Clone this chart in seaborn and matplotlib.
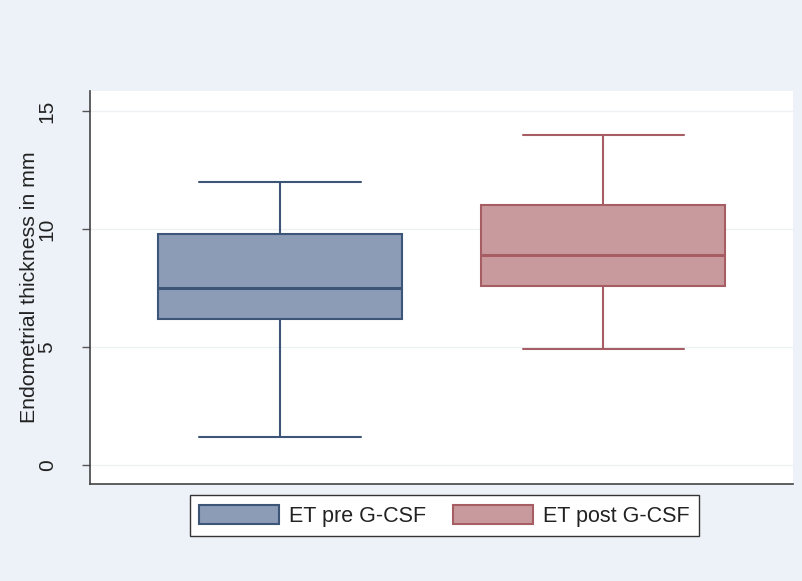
import numpy as np
import pandas as pd
import matplotlib
matplotlib.use("Agg")
import matplotlib.pyplot as plt
from matplotlib.patches import Patch
import seaborn as sns

# Five-number summaries (min, Q1, median, Q3, max) of endometrial thickness, mm
groups = ["ET pre G-CSF", "ET post G-CSF"]
pre_values = [1.2, 6.2, 7.5, 9.8, 12.0]
post_values = [4.9, 7.6, 8.9, 11.0, 14.0]

fill_colors = ["#8c9cb7", "#c99a9d"]
edge_colors = ["#3d5576", "#a65d63"]

df = pd.DataFrame({
    "group": [groups[0]] * len(pre_values) + [groups[1]] * len(post_values),
    "value": pre_values + post_values,
})

sns.set_theme(style="white")
plt.rcParams["font.family"] = ["Liberation Sans", "DejaVu Sans"]

fig = plt.figure(figsize=(8.02, 5.81), dpi=100, facecolor="#edf2f8")
ax = fig.add_axes([0.1122, 0.167, 0.8766, 0.6764])
ax.set_facecolor("white")

sns.boxplot(
    data=df, x="group", y="value", hue="group", order=groups, hue_order=groups,
    palette=dict(zip(groups, fill_colors)), saturation=1, width=0.754,
    whis=np.inf, linewidth=1.5, capwidths=0.5, legend=False, ax=ax,
    medianprops={"linewidth": 2.2},
)

# Give each box, whisker and cap the edge colour of its own group
for patch in ax.patches:
    verts = patch.get_path().vertices
    idx = int(round(np.mean(verts[:, 0])))
    idx = min(max(idx, 0), 1)
    patch.set_edgecolor(edge_colors[idx])
for line in ax.lines:
    xd = np.asarray(line.get_xdata(), dtype=float)
    if xd.size == 0:
        continue
    idx = min(max(int(round(xd.mean())), 0), 1)
    line.set_color(edge_colors[idx])

ax.set_xlim(-0.587, 1.586)
ax.set_ylim(-0.81, 15.85)
ax.set_yticks([0, 5, 10, 15])
ax.set_xticks([])
ax.set_xlabel("")
ax.set_ylabel("Endometrial thickness in mm", fontsize=15.3, color="#222222", labelpad=-1)
ax.yaxis.grid(True, color="#eef1f4", linewidth=1)
ax.set_axisbelow(True)

ax.tick_params(axis="y", which="major", left=True, length=6, width=1,
               color="#555555", pad=18, labelsize=15, labelcolor="#222222")
for lbl in ax.get_yticklabels():
    lbl.set_rotation(90)
    lbl.set_va("center")

for side in ["top", "right"]:
    ax.spines[side].set_visible(False)
for side in ["left", "bottom"]:
    ax.spines[side].set_color("#444444")
    ax.spines[side].set_linewidth(1.2)

handles = [Patch(facecolor=f, edgecolor=e, linewidth=1.5, label=g)
           for g, f, e in zip(groups, fill_colors, edge_colors)]
leg = fig.legend(
    handles=handles, loc="center", bbox_to_anchor=(0.554, 0.112), ncol=2,
    fontsize=15.5, frameon=True, fancybox=False, framealpha=1, edgecolor="#333333",
    handlelength=3.7, handleheight=0.95, handletextpad=0.47, columnspacing=1.25,
    borderpad=0.45, borderaxespad=0,
)
leg.get_frame().set_linewidth(1.0)
for t in leg.get_texts():
    t.set_color("#222222")

fig.savefig("out.png", dpi=100, facecolor=fig.get_facecolor())
